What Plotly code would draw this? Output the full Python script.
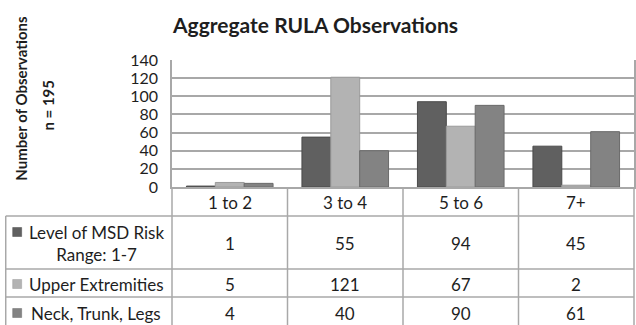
import plotly.graph_objects as go

# Data
categories = ["1 to 2", "3 to 4", "5 to 6", "7+"]
series_names = ["Level of MSD Risk<br>Range: 1-7", "Upper Extremities", "Neck, Trunk, Legs"]
msd_risk = [1, 55, 94, 45]
upper_extremities = [5, 121, 67, 2]
neck_trunk_legs = [4, 40, 90, 61]
y_ticks = [0, 20, 40, 60, 80, 100, 120, 140]

series_values = [msd_risk, upper_extremities, neck_trunk_legs]
colors = ["#606060", "#b3b3b3", "#838383"]
outlines = ["#4a4a4a", "#9a9a9a", "#6a6a6a"]

FONT = "Lato"
TXT = "#1e1e1e"
GRID = "#a8a8a8"

W, H = 636, 325
L, T, B = 172, 60, 138
PLOT_W = W - L
PLOT_H = H - T - B
y0_px = T + PLOT_H  # pixel row of the x axis


def xd(px):
    return (px - L) / PLOT_W


def yd(py):
    return (y0_px - py) / PLOT_H


fig = go.Figure()
for name, vals, c, oc in zip(series_names, series_values, colors, outlines):
    fig.add_trace(go.Bar(
        x=categories, y=vals, name=name,
        marker=dict(color=c, line=dict(color=oc, width=1)),
        showlegend=False,
    ))

shapes = []
line_style = dict(color=GRID, width=1.5)

# Data table: horizontal rules
row_lines = [216, 269, 297]
for py in row_lines:
    shapes.append(dict(type="line", xref="x domain", yref="y domain",
                       x0=xd(5), x1=1.0, y0=yd(py), y1=yd(py), line=line_style))
# left edge of the series-name column
shapes.append(dict(type="line", xref="x domain", yref="y domain",
                   x0=xd(5), x1=xd(5), y0=yd(216), y1=yd(H + 5), line=line_style))
# column separators (plot left edge and category boundaries)
n = len(categories)
for i in range(n + 1):
    fx = i / n
    shapes.append(dict(type="line", xref="x domain", yref="y domain",
                       x0=fx, x1=fx, y0=0, y1=yd(H + 5), line=line_style))

# legend swatches in the table
row_text_y = [232, 284, 313]
for c, oc, py in zip(colors, outlines, row_text_y):
    shapes.append(dict(type="rect", xref="x domain", yref="y domain",
                       x0=xd(12), x1=xd(21), y0=yd(py + 4.5), y1=yd(py - 4.5),
                       fillcolor=c, line=dict(color=oc, width=0.5)))

annotations = []


def text_at(x, xref, py, text, size=17, angle=0):
    annotations.append(dict(x=x, xref=xref, y=yd(py), yref="y domain",
                            text=text, showarrow=False, align="center",
                            xanchor="center", yanchor="middle", textangle=angle,
                            font=dict(family=FONT, size=size, color=TXT)))


# category header row
for cat in categories:
    text_at(cat, "x", 202, cat)
# values
value_rows_y = [243, 284, 313]
for vals, py in zip(series_values, value_rows_y):
    for cat, v in zip(categories, vals):
        text_at(cat, "x", py, str(v))
# series labels
for name, py in zip(series_names, value_rows_y):
    text_at(xd(96), "x domain", py, name)

# title
text_at(xd(316), "x domain", 24, "<b>Aggregate RULA Observations</b>", size=21)
# axis title (two lines, rotated)
text_at(xd(20), "x domain", 98, "<b>Number of Observations</b>", size=15, angle=-90)
text_at(xd(47), "x domain", 105, "<b>n = 195</b>", size=15, angle=-90)

fig.update_layout(
    width=W, height=H,
    margin=dict(l=L, r=0, t=T, b=B, pad=0),
    paper_bgcolor="white", plot_bgcolor="white",
    barmode="group", bargap=0.25, bargroupgap=0,
    shapes=shapes, annotations=annotations,
    xaxis=dict(type="category", range=[-0.5, n - 0.5], showticklabels=False,
               showgrid=False, showline=True, linecolor=GRID, linewidth=1.5,
               ticks="", zeroline=False, fixedrange=True),
    yaxis=dict(range=[0, 140], tickvals=y_ticks, showgrid=True, gridcolor=GRID,
               gridwidth=1.5, showline=True, linecolor=GRID, linewidth=1.5,
               mirror=True, ticks="", zeroline=False,
               tickfont=dict(family=FONT, size=16, color=TXT), ticklabelstandoff=9,
               fixedrange=True),
    font=dict(family=FONT),
)

fig.write_html("out.html")
